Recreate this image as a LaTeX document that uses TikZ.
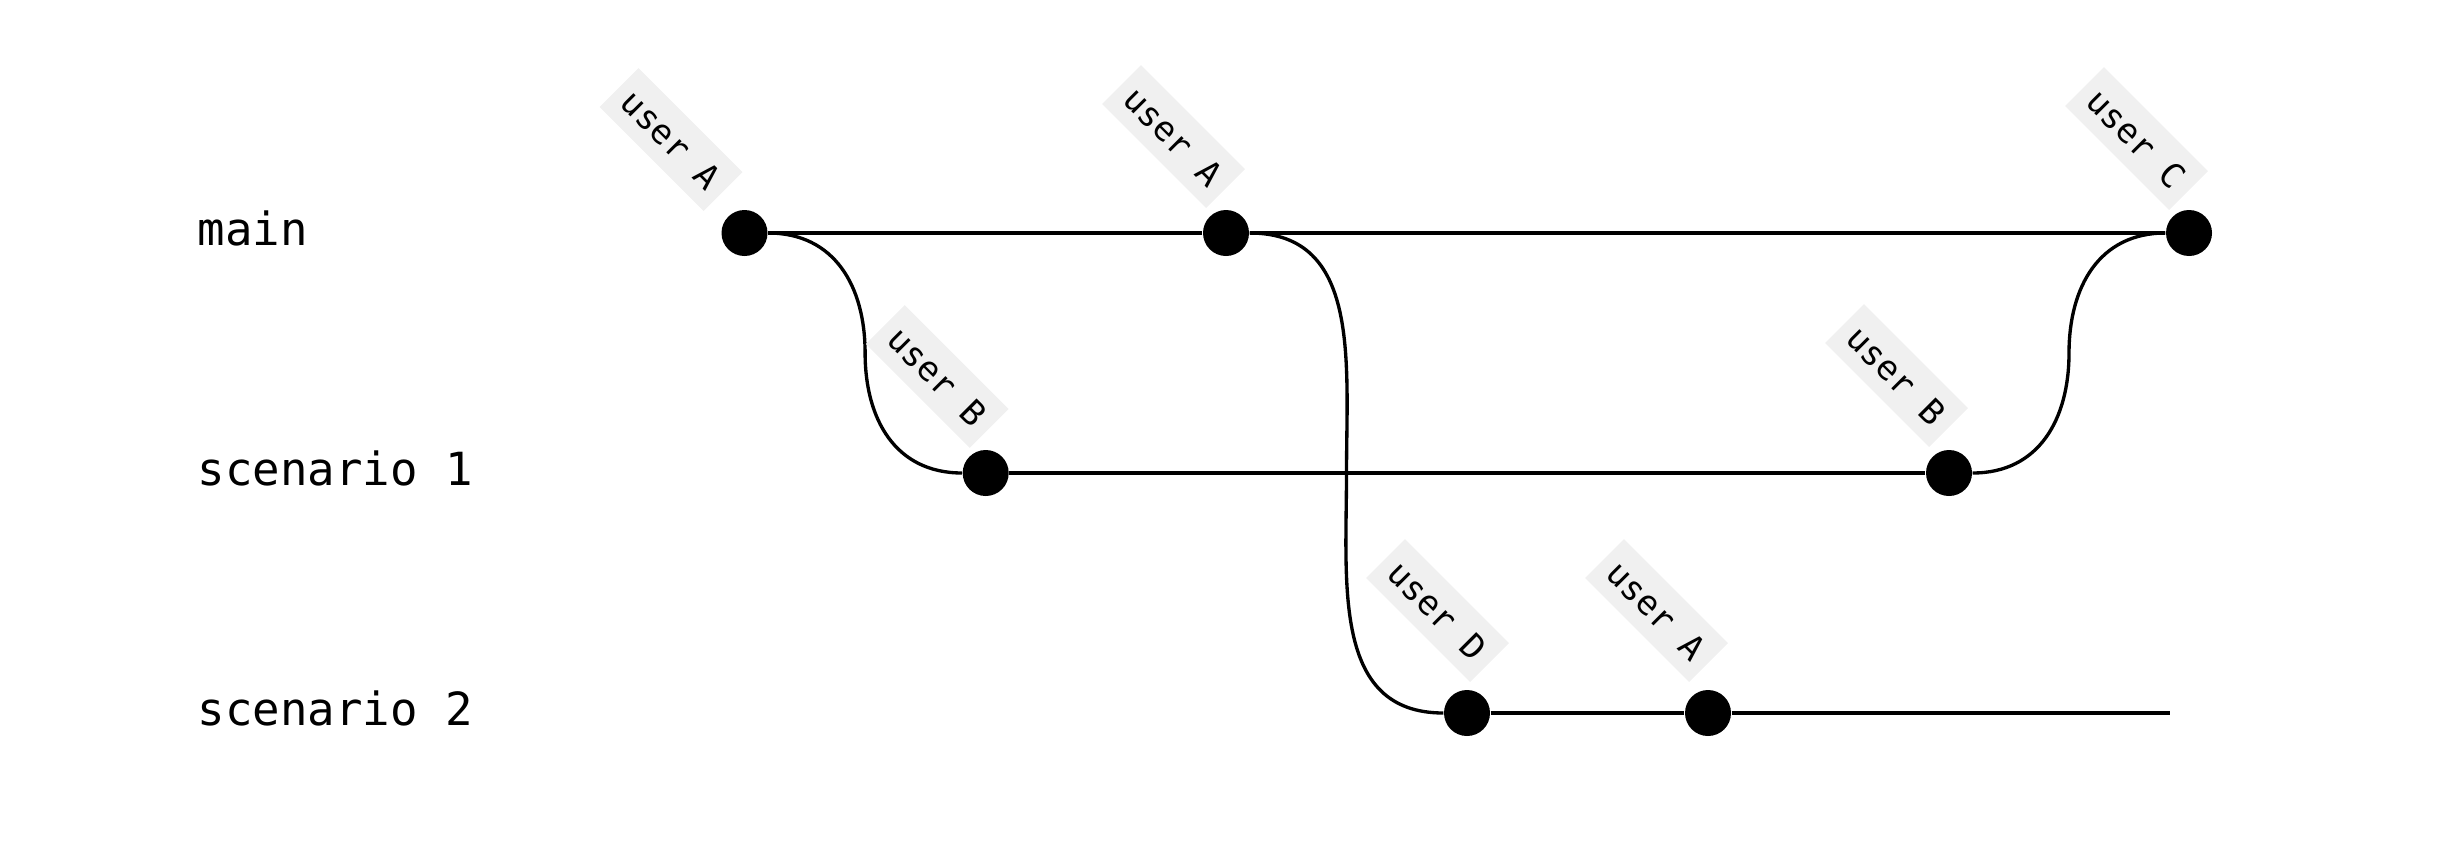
\documentclass[tikz,border=0pt]{standalone}
\usepackage{fontspec}
\setmonofont{DejaVu Sans Mono}
\usepackage{tikz}

\definecolor{tag gray}{RGB}{240,240,240}

\tikzset{
  commit/.style={circle, fill=black, minimum size=0.46cm, inner sep=0},
  branch/.style={line width=0.95pt},
  tag/.style={rotate=-45, anchor=east, fill=tag gray, minimum width=1.47cm, minimum height=0.55cm, inner sep=0, font=\ttfamily\fontsize{9.7}{11}\selectfont},
  lane/.style={anchor=mid west, inner sep=0, font=\ttfamily\fontsize{13}{15}\selectfont}
}

\begin{document}
\begin{tikzpicture}
\useasboundingbox (0, 0) rectangle (24.48, -8.60);

\node[lane] (main lane) at (1.97, -2.38) {main};
\node[lane] (scenario1 lane) at (1.97, -4.78) {scenario 1};
\node[lane] (scenario2 lane) at (1.97, -7.18) {scenario 2};

\node[commit] (main 1) at (7.445, -2.33) {};
\node[commit] (scenario1 1) at (9.857, -4.73) {};
\node[commit] (main 2) at (12.26, -2.33) {};
\node[commit] (scenario2 1) at (14.67, -7.13) {};
\node[commit] (scenario2 2) at (17.08, -7.13) {};
\node[commit] (scenario1 2) at (19.49, -4.73) {};
\node[commit] (main 3) at (21.89, -2.33) {};
\coordinate (scenario2 end) at (21.70, -7.13);

\coordinate (fork 1) at (8.651, -3.53);
\coordinate (fork 2) at (13.465, -4.73);
\coordinate (merge 1) at (20.69, -3.53);

\draw[branch] (main 1) -- (main 2) -- (main 3);
\draw[branch] (scenario1 1) -- (scenario1 2);
\draw[branch] (scenario2 1) -- (scenario2 2) -- (scenario2 end);

\draw[branch] (main 1) to[out=0, in=90, looseness=1.1] (fork 1) to[out=-90, in=180, looseness=1.1] (scenario1 1);
\draw[branch] (main 2) to[out=0, in=90, looseness=1.1] (fork 2) to[out=-90, in=180, looseness=1.1] (scenario2 1);
\draw[branch] (scenario1 2) to[out=0, in=-90, looseness=1.1] (merge 1) to[out=90, in=180, looseness=1.1] (main 3);

\node[tag] (main 1 label) at ([shift={(-0.21, 0.41)}] main 1.center) {user A};
\node[tag] (main 2 label) at ([shift={(0, 0.44)}] main 2.center) {user A};
\node[tag] (main 3 label) at ([shift={(0, 0.42)}] main 3.center) {user C};
\node[tag] (scenario1 1 label) at ([shift={(0.04, 0.44)}] scenario1 1.center) {user B};
\node[tag] (scenario1 2 label) at ([shift={(0, 0.45)}] scenario1 2.center) {user B};
\node[tag] (scenario2 1 label) at ([shift={(0.23, 0.50)}] scenario2 1.center) {user D};
\node[tag] (scenario2 2 label) at ([shift={(0.01, 0.50)}] scenario2 2.center) {user A};
\end{tikzpicture}
\end{document}
